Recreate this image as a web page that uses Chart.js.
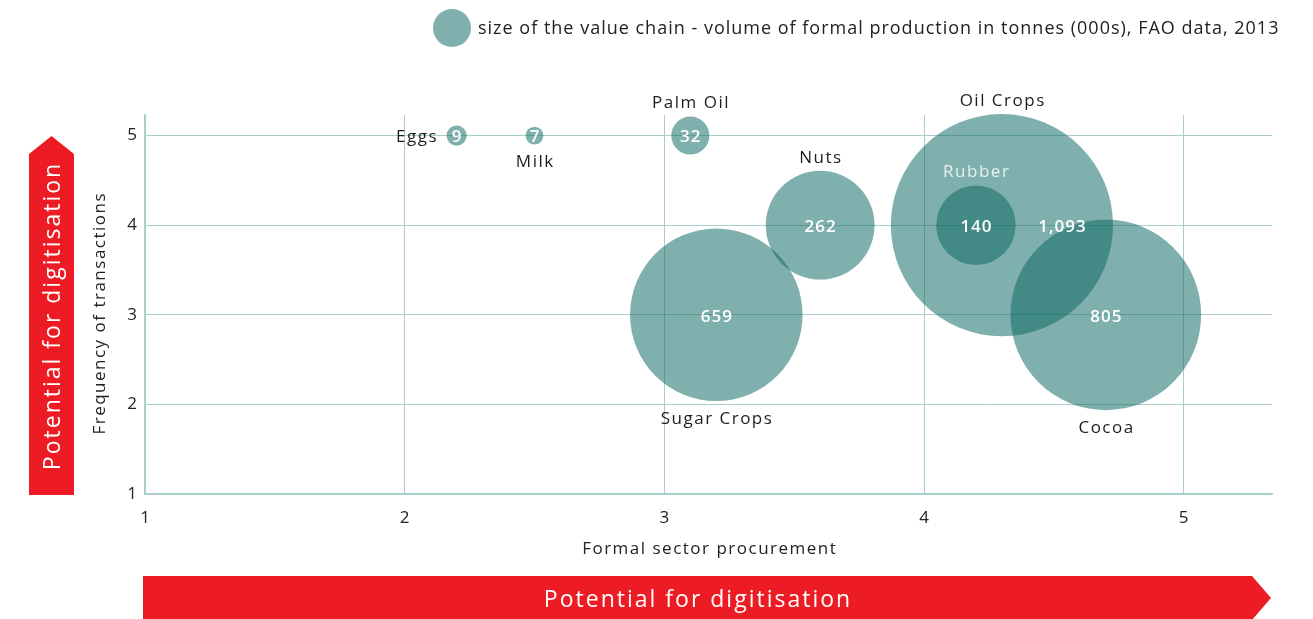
<!DOCTYPE html>
<html>
<head>
<meta charset="utf-8">
<script src="https://cdn.jsdelivr.net/npm/chart.js@4.4.0/dist/chart.umd.min.js"></script>
<style>
  html, body { margin: 0; padding: 0; background: #fff; }
  #wrap { width: 1313px; height: 619px; position: relative; }
</style>
</head>
<body>
<div id="wrap"><canvas id="bubbleChart" width="1313" height="619"></canvas></div>
<script>
// value chains
var chains = ['Eggs', 'Milk', 'Palm Oil', 'Nuts', 'Sugar Crops', 'Oil Crops', 'Rubber', 'Cocoa'];
// formal sector procurement (x)
var procurement = [2.2, 2.5, 3.1, 3.6, 3.2, 4.3, 4.2, 4.7];
// frequency of transactions (y)
var frequency = [5, 5, 5, 4, 3, 4, 4, 3];
// volume of formal production, tonnes (000s)
var volume = [9, 7, 32, 262, 659, 1093, 140, 805];
var volumeLabels = ['9', '7', '32', '262', '659', '1,093', '140', '805'];
var xTicks = [1, 2, 3, 4, 5];
var yTicks = [1, 2, 3, 4, 5];

// where the name goes relative to its bubble
var namePlace = ['left', 'bottom', 'top', 'top', 'bottom', 'top', 'top', 'bottom'];

var FONT = "'Open Sans', 'Noto Sans', sans-serif";
var BUBBLE = 'rgba(12, 104, 98, 0.52)';
var GRID = '#a9cfcc';
var RED = '#ed1c24';
var K = 3.36; // px per sqrt(value)

function radiusOf(v) { return K * Math.sqrt(v); }

var points = chains.map(function(c, i) {
  return { x: procurement[i], y: frequency[i], v: volume[i] };
});

// 文字加字距後置中
function spacedText(c, text, x, y, spacing) {
  c.letterSpacing = spacing + 'px';
  var shift = 0;
  if (c.textAlign === 'center') shift = spacing / 2;
  else if (c.textAlign === 'right') shift = spacing;
  c.fillText(text, x + shift, y);
  c.letterSpacing = '0px';
}

// 標籤、圖例、箭頭
var decor = {
  id: 'decor',
  beforeDraw: function(chart) {
    var c = chart.ctx;
    c.save();
    // legend
    c.fillStyle = BUBBLE;
    c.beginPath();
    c.arc(452, 28, 19, 0, Math.PI * 2);
    c.fill();
    c.fillStyle = '#222';
    c.font = '18px ' + FONT;
    c.textBaseline = 'middle';
    c.textAlign = 'left';
    spacedText(c, 'size of the value chain - volume of formal production in tonnes (000s), FAO data, 2013', 478, 29, 1);

    // left arrow
    c.fillStyle = RED;
    c.beginPath();
    c.moveTo(29, 495);
    c.lineTo(29, 154);
    c.lineTo(51.5, 136);
    c.lineTo(74, 154);
    c.lineTo(74, 495);
    c.closePath();
    c.fill();
    c.save();
    c.translate(53, 317);
    c.rotate(-Math.PI / 2);
    c.fillStyle = '#fff';
    c.font = '23px ' + FONT;
    c.textAlign = 'center';
    spacedText(c, 'Potential for digitisation', 0, 0, 2);
    c.restore();

    // bottom arrow
    c.fillStyle = RED;
    c.beginPath();
    c.moveTo(143, 576);
    c.lineTo(1252, 576);
    c.lineTo(1271, 598);
    c.lineTo(1252, 620);
    c.lineTo(143, 620);
    c.closePath();
    c.fill();
    c.fillStyle = '#fff';
    c.font = '23px ' + FONT;
    c.textAlign = 'center';
    spacedText(c, 'Potential for digitisation', 697, 600, 2);

    // axis titles
    c.fillStyle = '#222';
    c.font = '17px ' + FONT;
    spacedText(c, 'Formal sector procurement', 709, 549, 1.5);
    c.save();
    c.translate(100, 314);
    c.rotate(-Math.PI / 2);
    spacedText(c, 'Frequency of transactions', 0, 0, 1.5);
    c.restore();
    c.restore();
  },
  afterDatasetsDraw: function(chart) {
    var c = chart.ctx;
    var xs = chart.scales.x, ys = chart.scales.y;
    c.save();
    c.textBaseline = 'middle';
    chains.forEach(function(name, i) {
      var px = xs.getPixelForValue(procurement[i]);
      var py = ys.getPixelForValue(frequency[i]);
      var r = radiusOf(volume[i]);
      // value inside the bubble
      c.fillStyle = '#fff';
      c.font = '600 17px ' + FONT;
      c.textAlign = 'center';
      var vx = name === 'Oil Crops' ? px + r * 0.54 : px;
      spacedText(c, volumeLabels[i], vx, py + 2, 1);
      // name
      c.font = '17px ' + FONT;
      c.fillStyle = name === 'Rubber' ? '#e6f1ef' : '#1e1e1e';
      var p = namePlace[i];
      if (p === 'left') {
        c.textAlign = 'right';
        spacedText(c, name, px - r - 10, py + 2, 1.5);
      } else if (p === 'top') {
        spacedText(c, name, px, py - r - 13, 1.5);
      } else {
        spacedText(c, name, px, py + r + 18, 1.5);
      }
    });
    c.restore();
  }
};

var ctx = document.getElementById('bubbleChart').getContext('2d');
var chart = new Chart(ctx, {
  type: 'bubble',
  data: {
    datasets: [{
      data: points,
      backgroundColor: BUBBLE,
      borderWidth: 0,
      hoverBorderWidth: 0,
      clip: false,
      radius: function(c) { return c.raw ? radiusOf(c.raw.v) : 0; },
      hoverRadius: 0
    }]
  },
  options: {
    responsive: false,
    animation: false,
    events: [],
    layout: { autoPadding: false, padding: { left: 0, right: 41, top: 115, bottom: 55 } },
    plugins: { legend: { display: false }, tooltip: { enabled: false } },
    scales: {
      x: {
        type: 'linear',
        min: 1,
        max: 5.34,
        afterFit: function(s) { s.height = 70; },
        afterBuildTicks: function(s) { s.ticks = xTicks.map(function(v) { return { value: v }; }); },
        ticks: { includeBounds: false, stepSize: 1, padding: 14, color: '#222', font: { family: FONT, size: 17 } },
        grid: { color: GRID, drawTicks: false, lineWidth: 1 },
        border: { color: GRID, width: 1.5 }
      },
      y: {
        type: 'linear',
        min: 1,
        max: 5.23,
        afterFit: function(s) { s.width = 145; },
        afterBuildTicks: function(s) { s.ticks = yTicks.map(function(v) { return { value: v }; }); },
        ticks: { includeBounds: false, stepSize: 1, padding: 8, color: '#222', font: { family: FONT, size: 17 } },
        grid: { color: GRID, drawTicks: false, lineWidth: 1 },
        border: { color: GRID, width: 1.5 }
      }
    }
  },
  plugins: [decor]
});
</script>
</body>
</html>
